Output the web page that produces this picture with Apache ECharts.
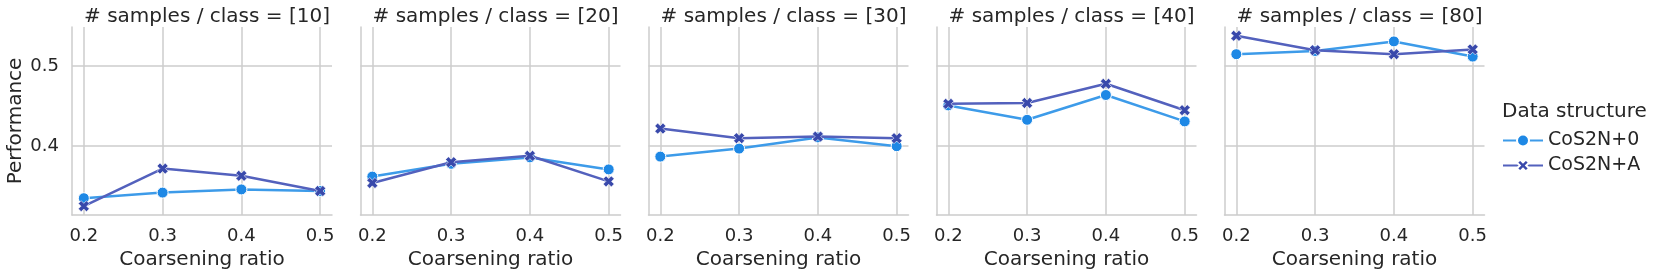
<!DOCTYPE html>
<html>
<head>
<meta charset="utf-8">
<script src="https://cdn.jsdelivr.net/npm/echarts@6/dist/echarts.min.js"></script>
<style>
html,body{margin:0;padding:0;background:#fff;}
#chart{width:1661px;height:276px;}
</style>
</head>
<body>
<div id="chart"></div>
<script>
// ---- data ----
const ratios = [0.2, 0.3, 0.4, 0.5];
const xTicks = [0.2, 0.3, 0.4, 0.5];
const yTicks = [0.4, 0.5];
const samplesPerClass = [10, 20, 30, 40, 80];
const seriesNames = ['CoS2N+0', 'CoS2N+A'];

const cos2n0_10 = [0.335, 0.342, 0.346, 0.344];
const cos2n0_20 = [0.362, 0.378, 0.386, 0.371];
const cos2n0_30 = [0.387, 0.397, 0.411, 0.400];
const cos2n0_40 = [0.451, 0.433, 0.464, 0.431];
const cos2n0_80 = [0.515, 0.519, 0.531, 0.512];

const cos2nA_10 = [0.325, 0.372, 0.363, 0.344];
const cos2nA_20 = [0.354, 0.380, 0.388, 0.356];
const cos2nA_30 = [0.422, 0.410, 0.412, 0.410];
const cos2nA_40 = [0.453, 0.454, 0.478, 0.445];
const cos2nA_80 = [0.538, 0.520, 0.515, 0.521];

const panels0 = [cos2n0_10, cos2n0_20, cos2n0_30, cos2n0_40, cos2n0_80];
const panelsA = [cos2nA_10, cos2nA_20, cos2nA_30, cos2nA_40, cos2nA_80];

// ---- styling ----
const FONT = 'DejaVu Sans';
const TXT = '#262626';
const GRID = '#cccccc';
const lineCol = ['#3d9be9', '#5361bd'];
const markCol = ['#1E88E5', '#3949AB'];
const xPath = 'path://M0,2.6 L2.6,0 L5,2.4 L7.4,0 L10,2.6 L7.6,5 L10,7.4 L7.4,10 L5,7.6 L2.6,10 L0,7.4 L2.4,5 Z';

const lefts = [72, 360.5, 648.5, 936.5, 1224.5];
const W = 260, TOP = 27, H = 188;

const grids = [], xAxes = [], yAxes = [], series = [], titles = [];
samplesPerClass.forEach((s, i) => {
  grids.push({left: lefts[i], top: TOP, width: W, height: H, containLabel: false});
  titles.push({
    text: '# samples / class = [' + s + ']',
    left: lefts[i] + W / 2, top: 2, textAlign: 'center',
    textStyle: {fontFamily: FONT, fontSize: 20, fontWeight: 'normal', color: TXT}
  });
  xAxes.push({
    type: 'value', gridIndex: i, min: 0.185, max: 0.515,
    name: 'Coarsening ratio', nameLocation: 'middle', nameGap: 35,
    nameTextStyle: {fontFamily: FONT, fontSize: 20, color: TXT},
    axisLine: {show: true, lineStyle: {color: GRID, width: 1.5}},
    axisTick: {show: false, customValues: xTicks},
    axisLabel: {customValues: xTicks, fontFamily: FONT, fontSize: 18, color: TXT, margin: 12,
      formatter: v => v.toFixed(1)},
    splitLine: {show: true, lineStyle: {color: GRID, width: 1.5}}
  });
  yAxes.push({
    type: 'value', gridIndex: i, min: 0.314, max: 0.549,
    name: i === 0 ? 'Performance' : '', nameLocation: 'middle', nameGap: 46,
    nameTextStyle: {fontFamily: FONT, fontSize: 20, color: TXT},
    axisLine: {show: true, lineStyle: {color: GRID, width: 1.5}},
    axisTick: {show: false, customValues: yTicks},
    axisLabel: {show: i === 0, customValues: yTicks, fontFamily: FONT, fontSize: 18, color: TXT, margin: 13,
      formatter: v => v.toFixed(1)},
    splitLine: {show: true, lineStyle: {color: GRID, width: 1.5}}
  });
  [panels0[i], panelsA[i]].forEach((vals, k) => {
    series.push({
      name: seriesNames[k], type: 'line', xAxisIndex: i, yAxisIndex: i,
      data: ratios.map((r, j) => [r, vals[j]]),
      symbol: k === 0 ? 'circle' : xPath,
      symbolSize: 11,
      showSymbol: true,
      lineStyle: {color: lineCol[k], width: 2.5},
      itemStyle: {color: markCol[k], borderColor: '#ffffff', borderWidth: k === 0 ? 1 : 0.6},
      z: 2 + k,
      animation: false
    });
  });
});

titles.push({
  text: 'Data structure', left: 1497, top: 97,
  textStyle: {fontFamily: FONT, fontSize: 20, fontWeight: 'normal', color: TXT}
});

const chart = echarts.init(document.getElementById('chart'), null, {renderer: 'canvas'});
chart.setOption({
  backgroundColor: '#ffffff',
  animation: false,
  title: titles,
  grid: grids,
  xAxis: xAxes,
  yAxis: yAxes,
  legend: {
    data: seriesNames, orient: 'vertical', left: 1497, top: 126,
    itemWidth: 40, itemHeight: 15, itemGap: 6,
    textStyle: {fontFamily: FONT, fontSize: 19, color: TXT},
    selectedMode: false
  },
  series: series
});
</script>
</body>
</html>
